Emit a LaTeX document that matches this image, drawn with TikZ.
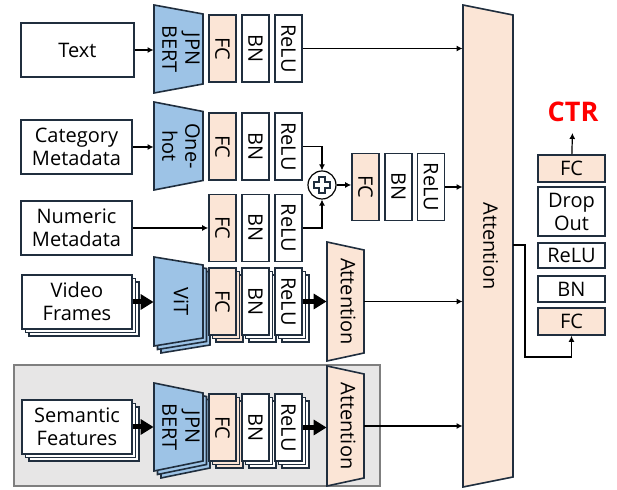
\documentclass[tikz,border=0pt]{standalone}
\usepackage{fontspec}
\setmainfont{Open Sans}
\usetikzlibrary{arrows.meta,shadows}

\definecolor{edge}{RGB}{32,46,62}
\definecolor{peach}{RGB}{251,229,214}
\definecolor{sky}{RGB}{157,195,230}
\definecolor{panel}{RGB}{231,230,230}
\definecolor{panelline}{RGB}{127,127,127}

% trapezoid layer: name, fill, x left, x right, y top, y bottom, inset, label
\newcommand{\trapblk}[8]{%
  \filldraw[fill=#2,draw=edge,line width=0.8pt] (#3,#5) -- (#4,#5+#7) -- (#4,#6-#7) -- (#3,#6) -- cycle;
  \node[inner sep=0pt,minimum width={(#4-#3)*0.5pt},minimum height={(#6-#5)*0.5pt}] (#1)
    at ({(#3+#4)/2},{(#5+#6)/2}) {\rotatebox{-90}{\begin{tabular}{@{}c@{}}#8\end{tabular}}};
}
% two copies behind a trapezoid
\newcommand{\trapback}[6]{%
  \foreach \s in {7,3.5}
    \filldraw[fill=#1,draw=edge,line width=0.8pt,shift={(\s,\s)}] (#2,#4) -- (#3,#4+#6) -- (#3,#5-#6) -- (#2,#5) -- cycle;
}
\newcommand{\vt}[1]{\rotatebox{-90}{#1}}

\begin{document}
\begin{tikzpicture}[x=0.5pt,y=-0.5pt,
    font=\fontsize{10}{11.5}\selectfont,
    inbox/.style={draw=edge,line width=0.8pt,fill=white,minimum width=55.5pt,minimum height=27pt,align=center,inner sep=1pt},
    blk/.style={draw=edge,line width=0.8pt,minimum width=13.5pt,minimum height=33.5pt,inner sep=0pt},
    fcb/.style={blk,fill=peach},
    wb/.style={blk,fill=white},
    hblk/.style={draw=edge,line width=0.8pt,minimum width=33.5pt,minimum height=13.5pt,inner sep=0pt,align=center},
    stk/.style={copy shadow={shadow xshift=3.5pt,shadow yshift=-3.5pt,fill=#1,draw=edge,line width=0.8pt},
                copy shadow={shadow xshift=1.75pt,shadow yshift=-1.75pt,fill=#1,draw=edge,line width=0.8pt}},
    arr/.style={line width=0.6pt,-{Latex[length=3pt,width=3pt]}},
    thk/.style={line width=2.5pt,-{Triangle[length=6.5pt,width=7.5pt]}}]
    \useasboundingbox (0,0) rectangle (617,490);

    % grey panel for the semantic branch
    \filldraw[fill=panel,draw=panelline,line width=0.8pt] (14,365) rectangle (380,486);

    % inputs
    \node[inbox,minimum width=56.5pt] (text) at (77.5,50) {Text};
    \node[inbox] (cat) at (76.5,147) {Category\\Metadata};
    \node[inbox] (num) at (76.5,228) {Numeric\\Metadata};
    \node[inbox,minimum width=55pt,stk=white] (video) at (77,302) {Video\\Frames};
    \node[inbox,minimum width=55pt,stk=white] (sem) at (77,427) {Semantic\\Features};

    % encoders
    \trapblk{bert}{sky}{154}{203}{5}{93}{9}{JPN\\BERT}
    \trapblk{onehot}{sky}{154}{203}{102}{190}{9.5}{One-\\hot}
    \trapback{sky}{154}{203}{257}{346}{8}
    \trapblk{vit}{sky}{154}{203}{257}{346}{8}{ViT}
    \trapback{sky}{154}{203}{383}{471}{10}
    \trapblk{sbert}{sky}{154}{203}{383}{471}{10}{JPN\\BERT}

    % FC-BN-ReLU per branch
    \node[fcb] (fc1) at (222.5,48.5) {\vt{FC}};
    \node[wb] (bn1) at (255.5,48.5) {\vt{BN}};
    \node[wb] (relu1) at (288.5,48.5) {\vt{ReLU}};
    \node[fcb] (fc2) at (222.5,146.5) {\vt{FC}};
    \node[wb] (bn2) at (255.5,146.5) {\vt{BN}};
    \node[wb] (relu2) at (288.5,146.5) {\vt{ReLU}};
    \node[fcb] (fc3) at (222.5,228) {\vt{FC}};
    \node[wb] (bn3) at (255.5,228) {\vt{BN}};
    \node[wb] (relu3) at (288.5,228) {\vt{ReLU}};
    \node[fcb,stk=peach] (fc5) at (222.5,301.5) {\vt{FC}};
    \node[wb,stk=white] (bn5) at (255.5,301.5) {\vt{BN}};
    \node[wb,stk=white] (relu5) at (288.5,301.5) {\vt{ReLU}};
    \node[fcb,stk=peach] (fc6) at (222.5,427.5) {\vt{FC}};
    \node[wb,stk=white] (bn6) at (255.5,427.5) {\vt{BN}};
    \node[wb,stk=white] (relu6) at (288.5,427.5) {\vt{ReLU}};

    % metadata fusion
    \node[circle,draw,line width=0.6pt,fill=white,minimum size=14pt,inner sep=0pt] (plus) at (322,185) {};
    \draw[edge,line width=0.8pt] (319,177) -- (325,177) -- (325,182) -- (330,182) -- (330,188) -- (325,188)
        -- (325,193) -- (319,193) -- (319,188) -- (314,188) -- (314,182) -- (319,182) -- cycle;
    \node[fcb] (fc4) at (365.5,187) {\vt{FC}};
    \node[wb] (bn4) at (398.5,187) {\vt{BN}};
    \node[wb] (relu4) at (431,187) {\vt{ReLU}};

    % attention
    \trapblk{att1}{peach}{327}{364}{242}{361}{8}{Attention}
    \trapblk{att2}{peach}{327}{364}{366}{486}{8}{Attention}
    \trapblk{attn}{peach}{463}{513}{5}{487}{10}{Attention}

    % head
    \node[hblk,fill=peach] (fct) at (571.5,168.5) {FC};
    \node[hblk,fill=white,minimum height=24.5pt] (drop) at (571.5,211.5) {Drop\\Out};
    \node[hblk,fill=white,minimum height=12.5pt] (reluh) at (571.5,255.5) {ReLU};
    \node[hblk,fill=white,minimum height=13pt] (bnh) at (571.5,289) {BN};
    \node[hblk,fill=peach] (fcb) at (571.5,321.5) {FC};
    \node[text=red,font=\bfseries\fontsize{13.5}{15}\selectfont] (ctr) at (573,112) {CTR};
    \coordinate (attout) at (513,245);

    % connections
    \draw[arr] (text) -- (text -| bert.west);
    \draw[arr] (cat) -- (cat -| onehot.west);
    \draw[arr] (num) -- (fc3);
    \draw[thk] (video) -- (video -| vit.west);
    \draw[thk] (sem) -- (sem -| sbert.west);
    \draw[arr] (relu1) -- (relu1 -| attn.west);
    \draw[arr] (relu2) -| (plus);
    \draw[arr] (relu3) -| (plus);
    \draw[arr] (plus) -- (plus -| fc4.west);
    \draw[arr] (relu4) -- (relu4 -| attn.west);
    \draw[thk] (relu5) -- (relu5 -| att1.west);
    \draw[thk] (relu6) -- (relu6 -| att2.west);
    \draw[arr] (att1) -- (att1 -| attn.west);
    \draw[arr] (att2) -- (att2 -| attn.west);
    \draw[arr] (attout) -- ++(12,0) -- ++(0,112) -| (fcb);
    \draw[arr,shorten >=2pt] (fct) -- (ctr);
\end{tikzpicture}
\end{document}
